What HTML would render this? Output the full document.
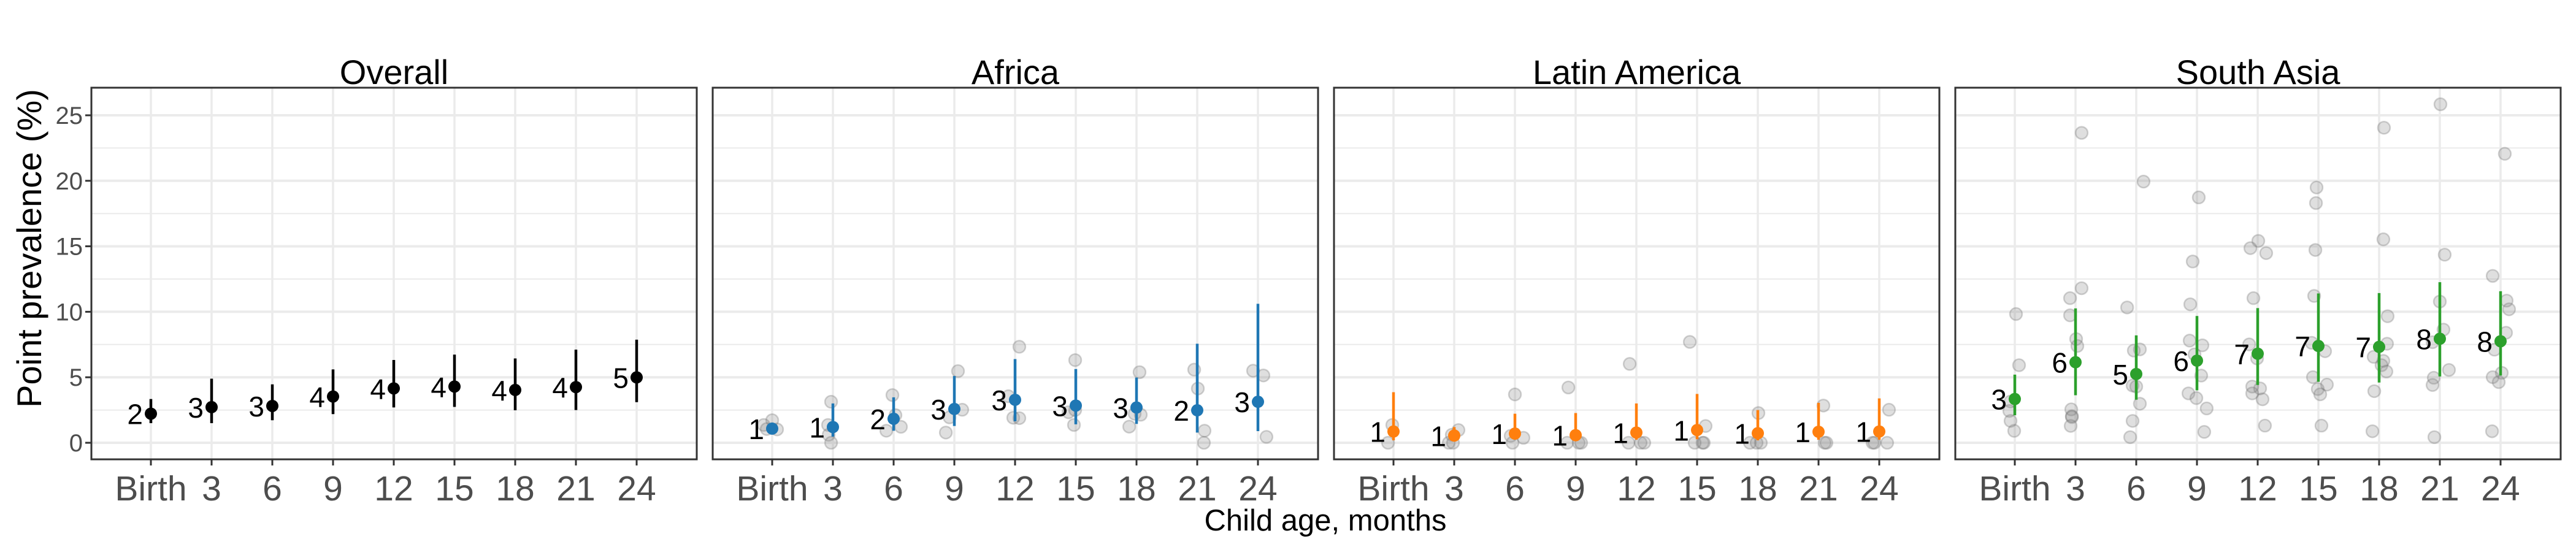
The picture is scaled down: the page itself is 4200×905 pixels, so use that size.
<!DOCTYPE html>
<html><head><meta charset="utf-8"><style>
html,body{margin:0;padding:0;background:#fff;}
svg text{font-family:"Liberation Sans",sans-serif;}
</style></head><body>
<svg id="chart" width="4200" height="900" viewBox="0 0 4200 900" xmlns="http://www.w3.org/2000/svg">
<rect width="4200" height="900" fill="#fff"/>
<text x="0" y="0" transform="translate(67,405) rotate(-90)" font-size="56" text-anchor="middle" fill="#000">Point prevalence (%)</text>
<text x="2161" y="865" font-size="49" text-anchor="middle" fill="#000">Child age, months</text>
</svg>
<script>
const categories = ["Birth","3","6","9","12","15","18","21","24"];
const yTicks = [0,5,10,15,20,25];
const panelNames = ["Overall","Africa","Latin America","South Asia"];
const panelColors = ["#000000","#1f77b4","#ff7f0e","#2ca02c"];

const overallMean = [2.22,2.72,2.81,3.53,4.15,4.29,4.03,4.25,4.99];
const overallLo = [1.5,1.5,1.72,2.19,2.7,2.74,2.48,2.5,3.1];
const overallHi = [3.34,4.89,4.46,5.6,6.32,6.73,6.44,7.11,7.87];
const overallN = [2,3,3,4,4,4,4,4,5];

const africaMean = [1.08,1.2,1.83,2.58,3.28,2.84,2.69,2.48,3.13];
const africaLo = [0.73,0.47,0.92,1.28,1.64,1.41,1.44,0.78,0.89];
const africaHi = [1.36,3.0,3.47,5.1,6.39,5.63,4.98,7.56,10.61];
const africaN = [1,1,2,3,3,3,3,2,3];

const latamMean = [0.86,0.55,0.7,0.58,0.78,0.97,0.73,0.84,0.86];
const latamLo = [0.19,0.14,0.23,0.14,0.23,0.27,0.19,0.23,0.23];
const latamHi = [3.86,1.2,2.22,2.27,3.0,3.73,2.5,3.05,3.39];
const latamN = [1,1,1,1,1,1,1,1,1];

const asiaMean = [3.34,6.15,5.25,6.27,6.8,7.39,7.32,7.94,7.75];
const asiaLo = [2.1,3.63,3.29,4.0,4.41,4.65,4.6,5.06,5.13];
const asiaHi = [5.2,10.26,8.2,9.68,10.28,11.4,11.43,12.26,11.57];
const asiaN = [3,6,5,6,7,7,7,8,8];

// study-level estimates per category
const africaStudies = [[1.72,1.36,1.05,1.02],[3.13,1.36,0.61,0],[3.64,2.11,1.22,0.92],[5.47,2.52,1.94,0.78],[7.33,3.55,1.91,1.88],[6.31,2.33,2.5,1.36],[5.39,2.22,2.14,1.23],[5.58,4.14,0.92,0],[5.5,5.14,0.45]];
const africaJitter = [[0,-.14,-.09,.08],[-.03,-.08,-.07,-.03],[-.02,.03,.12,-.12],[.06,.13,-.08,-.14],[.07,-.11,-.03,.07],[-.01,-.12,-.01,-.03],[.05,-.03,.07,-.12],[-.05,.01,.12,.11],[-.08,.09,.14]];
const latamStudies = [[1.36,0],[0.97,0.61,0,0],[3.69,0.38,0.53,0],[4.22,0,0,0],[6.02,0,0,0],[7.7,1.28,0,0,0],[2.27,0,0,0],[2.84,0,0],[2.52,0,0,0]];
const latamJitter = [[-.02,-.09],[.07,-.04,-.09,-.02],[0,.14,-.07,-.04],[-.12,-.14,.05,.09],[-.11,-.13,.07,.13],[-.12,.14,-.04,.09,.11],[.01,-.13,-.02,.05],[.08,.1,.13],[.16,-.11,-.08,.13]];
const asiaStudies = [[9.83,5.92,3.15,2.43,1.67,0.91],[23.66,11.8,11.04,9.73,7.92,7.39,2.55,2.03,1.96,1.29],[19.94,10.33,7.04,7.13,4.37,4.29,2.98,1.67,0.43],[18.73,13.84,10.57,7.8,7.44,6.75,5.13,3.77,3.41,2.62,0.83],[15.41,14.86,14.48,11.04,7.51,6.44,4.29,4.15,3.77,3.32,1.31],[19.49,18.3,14.72,11.21,7.63,6.99,5.01,4.44,4.1,3.7,1.31],[24.05,15.53,9.66,7.56,6.25,6.56,5.92,5.44,3.94,0.88],[25.84,14.36,10.78,8.64,7.68,5.56,4.96,4.41,0.43],[22.06,12.74,10.85,10.19,8.4,7.11,5.01,5.34,4.63,0.88]];
const asiaJitter = [[.02,.07,-.07,-.09,-.07,-.01],[.1,.1,-.09,-.09,.01,.03,-.07,-.06,-.06,-.08],[.12,-.15,-.04,.06,-.06,0,.06,-.06,-.1],[.03,-.07,-.11,-.12,.09,-.04,.07,-.14,-.01,.16,.12],[.01,-.12,.14,-.07,-.14,-.01,-.09,.04,-.09,.08,.12],[-.03,-.04,-.05,-.07,-.11,.11,-.09,.14,-.01,.03,.05],[.08,.07,.14,.13,.07,-.09,.04,.12,-.08,-.11],[.01,.08,0,.06,-.12,.15,-.1,-.12,-.09],[.07,-.13,.1,.14,.09,-.1,-.13,.02,-.03,-.14]];

const panels = [
 {mean:overallMean,lo:overallLo,hi:overallHi,n:overallN,studies:null,jit:null},
 {mean:africaMean,lo:africaLo,hi:africaHi,n:africaN,studies:africaStudies,jit:africaJitter},
 {mean:latamMean,lo:latamLo,hi:latamHi,n:latamN,studies:latamStudies,jit:latamJitter},
 {mean:asiaMean,lo:asiaLo,hi:asiaHi,n:asiaN,studies:asiaStudies,jit:asiaJitter}
];

const svg = document.getElementById('chart');
const NS = 'http://www.w3.org/2000/svg';
function mk(tag, attrs, parent){
  const e = document.createElementNS(NS, tag);
  for (const k in attrs) e.setAttribute(k, attrs[k]);
  (parent||svg).appendChild(e);
  return e;
}
const PL = [149,1162,2175,3188], PW = 987, PT = 143, PB = 749;
const Y0 = 722, YU = 21.36, XOFF = 97, XS = 99;
function yScale(v){ return Y0 - v*YU; }
function xScale(p, i){ return PL[p] + XOFF + i*XS; }

panels.forEach((d, p) => {
  const g = mk('g', {});
  
  
  const L = PL[p], R = L + PW;
  // minor grid
  for (let v = 2.5; v < 27; v += 5) {
    const ln = mk('line', {x1:L, x2:R, y1:yScale(v), y2:yScale(v), stroke:'#ebebeb', 'stroke-width':2}, g);
    
    
  }
  yTicks.forEach(v => {
    const ln = mk('line', {x1:L, x2:R, y1:yScale(v), y2:yScale(v), stroke:'#ebebeb', 'stroke-width':4}, g);
    
    
  });
  categories.forEach((c, i) => {
    const x = xScale(p, i);
    const ln = mk('line', {x1:x, x2:x, y1:PT, y2:PB, stroke:'#ebebeb', 'stroke-width':3.5}, g);
    
    
    const tk = mk('line', {x1:x, x2:x, y1:PB, y2:PB+10, stroke:'#333', 'stroke-width':3}, g);
    
    
    const t = mk('text', {x:x, y:816, 'font-size':57, 'text-anchor':'middle', fill:'#4d4d4d'}, g);
    t.textContent = c;
    
    
  });
  if (p === 0) {
    yTicks.forEach(v => {
      const tk = mk('line', {x1:L-10, x2:L, y1:yScale(v), y2:yScale(v), stroke:'#333', 'stroke-width':3}, g);
      
      
      const t = mk('text', {x:L-14, y:yScale(v)+14, 'font-size':40, 'text-anchor':'end', fill:'#4d4d4d'}, g);
      t.textContent = v;
      
      
    });
  }
  // study points
  if (d.studies) {
    d.studies.forEach((arr, i) => {
      arr.forEach((v, k) => {
        const c = mk('circle', {cx: xScale(p, i) + d.jit[i][k]*XS, cy: yScale(v), r:10, fill:'rgba(128,128,128,0.25)', stroke:'rgba(110,110,110,0.3)', 'stroke-width':2.5}, g);
        
        
      });
    });
  }
  // pooled estimates
  d.mean.forEach((m, i) => {
    const x = xScale(p, i);
    const el = mk('line', {x1:x, x2:x, y1:yScale(d.lo[i]), y2:yScale(d.hi[i]), stroke:panelColors[p], 'stroke-width':4.5}, g);
    
    
    const c = mk('circle', {cx:x, cy:yScale(m), r:10, fill:panelColors[p]}, g);
    
    
    const t = mk('text', {x:x-13, y:yScale(m)+17, 'font-size':46, 'text-anchor':'end', fill:'#000'}, g);
    t.textContent = d.n[i];
    
    
  });
  const b = mk('rect', {x:L, y:PT, width:PW, height:PB-PT, fill:'none', stroke:'#333', 'stroke-width':3}, g);
  
  
  const st = mk('text', {x:L+PW/2, y:137, 'font-size':56, 'text-anchor':'middle', fill:'#000'}, g);
  st.textContent = panelNames[p];
  
  
});
</script>
</body></html>
